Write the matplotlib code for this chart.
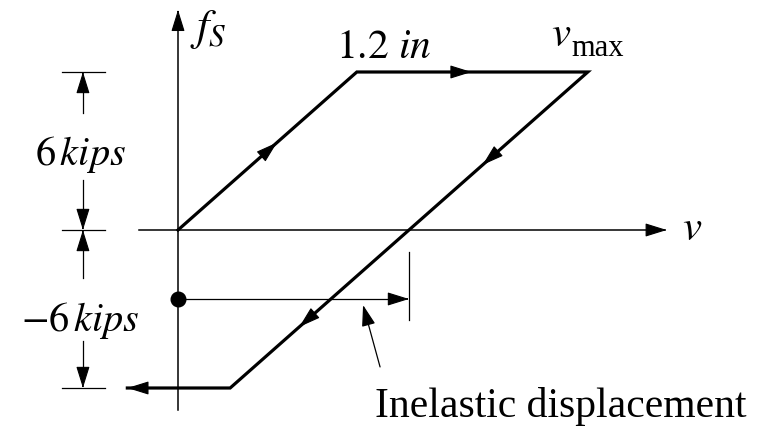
import matplotlib
matplotlib.use("Agg")
import matplotlib.pyplot as plt
import numpy as np
from matplotlib.patches import FancyArrowPatch

plt.rcParams["mathtext.fontset"] = "stix"
plt.rcParams["font.family"] = ["Liberation Serif", "DejaVu Serif"]

# Elastic-perfectly-plastic force-displacement cycle (kips, in)
yield_force = 6.0
yield_disp = 1.2
max_disp = 2.75
loop_v = [0.0, 1.2, 2.75, 0.35, -0.34]
loop_f = [0.0, 6.0, 6.0, -6.0, -6.0]
stiffness = yield_force / yield_disp
residual_disp = max_disp - yield_disp
dot_f = -2.62

fig = plt.figure(figsize=(7.59, 4.26), dpi=100)
ax = fig.add_axes([0, 0, 1, 1])
ax.set_xlim(-1.1946, 3.899)
ax.set_ylim(-7.443, 8.734)
ax.axis("off")

HEAD = "-|>,head_length=1.35,head_width=0.42"


def head(tip, direction, scale=10):
    """Filled arrowhead at tip pointing along direction (data units)."""
    d = np.asarray(direction, float)
    d = d / np.hypot(d[0] * 149, d[1] * 26.33)
    tail = (tip[0] - d[0] * 3, tip[1] - d[1] * 3)
    ax.add_patch(FancyArrowPatch(tail, tip, arrowstyle=HEAD, mutation_scale=scale,
                                 color="black", lw=0.8, shrinkA=0, shrinkB=0))


# coordinate axes
ax.plot([0, 0], [-6.84, 8.1], color="black", lw=1.1)
head((0, 8.36), (0, 1))
ax.plot([-0.262, 3.15], [0, 0], color="black", lw=1.1)
head((3.28, 0), (1, 0))

# hysteresis path
ax.plot(loop_v, loop_f, color="black", lw=2.3, solid_joinstyle="miter")
head((0.664, 0.664 * stiffness), (1, stiffness))
head((1.97, yield_force), (1, 0))
for f_tip in (2.47, -3.68):
    v_tip = max_disp - (yield_force - f_tip) / stiffness
    head((v_tip, f_tip), (-1, -stiffness))
head((loop_v[-1], loop_f[-1]), (-1, 0))

# dimension lines on the left
xd = -0.638
for f in (yield_force, 0.0, -yield_force):
    ax.plot([-0.778, -0.49], [f, f], color="black", lw=0.9)
ax.plot([xd, xd], [4.44, 5.5], color="black", lw=0.9)
head((xd, yield_force), (0, 1))
ax.plot([xd, xd], [1.9, 0.5], color="black", lw=0.9)
head((xd, 0.0), (0, -1))
ax.plot([xd, xd], [-1.82, -0.5], color="black", lw=0.9)
head((xd, 0.0), (0, 1))
ax.plot([xd, xd], [-4.22, -5.5], color="black", lw=0.9)
head((xd, -yield_force), (0, -1))

ax.text(-0.651, 2.85, r"$6\,kips$", fontsize=29, ha="center", va="center")
ax.text(-0.658, -3.42, r"$-6\,kips$", fontsize=29, ha="center", va="center")

# inelastic displacement marker
ax.plot([0], [dot_f], "o", color="black", markersize=10.5)
ax.plot([0, residual_disp - 0.1], [dot_f, dot_f], color="black", lw=0.9)
head((residual_disp, dot_f), (1, 0))
ax.plot([residual_disp, residual_disp], [-0.84, -3.42], color="black", lw=0.9)
ax.add_patch(FancyArrowPatch((1.356, -5.2), (1.242, -2.85),
                             arrowstyle="-|>,head_length=1.3,head_width=0.42",
                             mutation_scale=10, color="black", lw=0.9,
                             shrinkA=0, shrinkB=0))

# labels
ax.text(0.08, 7.6, r"$f_S$", fontsize=32, ha="left", va="center")
ax.text(1.38, 6.53, r"$1.2\ in$", fontsize=30, ha="center", va="baseline")
ax.text(2.57, 7.0, r"$v$", fontsize=31, ha="center", va="baseline")
ax.text(2.64, 6.62, "max", fontsize=22, ha="left", va="baseline")
ax.text(3.38, 0.0, r"$v$", fontsize=31, ha="left", va="center")
ax.text(2.57, -7.10, "Inelastic displacement", fontsize=30, ha="center", va="baseline")

fig.savefig("out.png", dpi=100)
